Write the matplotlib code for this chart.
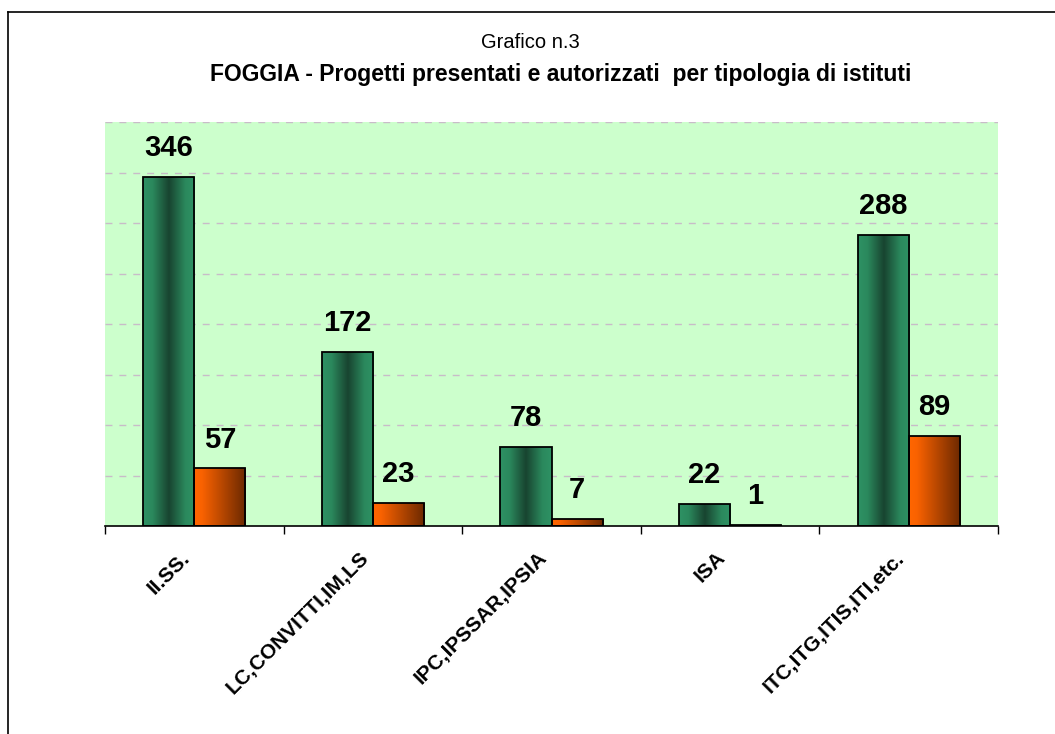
import numpy as np
import matplotlib.pyplot as plt
from matplotlib.colors import LinearSegmentedColormap
from matplotlib.lines import Line2D
from matplotlib.transforms import ScaledTranslation

plt.rcParams['font.family'] = ['Liberation Sans', 'DejaVu Sans']

# Data
categories = ['II.SS.', 'LC,CONVITTI,IM,LS', 'IPC,IPSSAR,IPSIA', 'ISA', 'ITC,ITG,ITIS,ITI,etc.']
presentati = [346, 172, 78, 22, 288]
autorizzati = [57, 23, 7, 1, 89]

green_cmap = LinearSegmentedColormap.from_list(
    'green', [(0.0, '#2E9264'), (0.18, '#2B895D'), (0.5, '#184430'), (0.82, '#2B895D'), (1.0, '#2E9264')])
orange_cmap = LinearSegmentedColormap.from_list(
    'orange', [(0.0, '#FF6600'), (0.15, '#FA6200'), (1.0, '#6A2800')])

fig = plt.figure(figsize=(10.55, 7.34), dpi=100)
ax = fig.add_axes([105 / 1055, 1 - 526 / 734, (998 - 105) / 1055, (526 - 122) / 734])
ax.set_facecolor('#CCFFCC')

x = np.arange(len(categories))
w = 0.286
bars1 = ax.bar(x - w / 2, presentati, w, facecolor='none', edgecolor='black', linewidth=1.3, zorder=3)
bars2 = ax.bar(x + w / 2, autorizzati, w, facecolor='none', edgecolor='black', linewidth=1.3, zorder=3)

# gradient fill clipped to each bar
grad = np.linspace(0, 1, 256).reshape(1, -1)
for bars, cmap in ((bars1, green_cmap), (bars2, orange_cmap)):
    for b in bars:
        x0, h = b.get_x(), b.get_height()
        im = ax.imshow(grad, cmap=cmap, aspect='auto', extent=(x0, x0 + b.get_width(), 0, h),
                       interpolation='bicubic', zorder=2)
        im.set_clip_path(b)

for bars, vals in ((bars1, presentati), (bars2, autorizzati)):
    for b, v in zip(bars, vals):
        ax.annotate(str(v), (b.get_x() + b.get_width() / 2, v), xytext=(0, 15),
                    textcoords='offset points', ha='center', va='baseline',
                    fontsize=21, fontweight='bold')

ax.set_xlim(-0.5, len(categories) - 0.5)
ax.set_ylim(0, 400)
ax.set_yticks(np.arange(50, 401, 50))
ax.yaxis.grid(True, color='#C8BCC8', linestyle=(0, (5, 5)), linewidth=1)
ax.tick_params(axis='y', length=0, labelleft=False)
ax.set_axisbelow(True)
for s in ('top', 'right', 'left'):
    ax.spines[s].set_visible(False)
ax.spines['bottom'].set_linewidth(1.2)

ax.set_xticks(x)
ax.set_xticklabels(categories, rotation=45, ha='right', rotation_mode='anchor',
                   fontsize=15, fontweight='bold')
ax.tick_params(axis='x', which='major', length=0, pad=16)
ax.set_xticks(np.arange(-0.5, len(categories)), minor=True)
ax.tick_params(axis='x', which='minor', length=6, width=1)
shift = ScaledTranslation(-14 / 100, 0, fig.dpi_scale_trans)
for lab in ax.get_xticklabels():
    lab.set_transform(lab.get_transform() + shift)

fig.text(530 / 1055, 1 - 42 / 734, 'Grafico n.3', ha='center', va='center', fontsize=14.5)
fig.text(561 / 1055, 1 - 75 / 734, 'FOGGIA - Progetti presentati e autorizzati  per tipologia di istituti',
         ha='center', va='center', fontsize=16.5, fontweight='bold')

# Border of the chart frame
fig.add_artist(Line2D([8 / 1055, 1], [1 - 12 / 734, 1 - 12 / 734], color='black', linewidth=1.2))
fig.add_artist(Line2D([8 / 1055, 8 / 1055], [0, 1 - 12 / 734], color='black', linewidth=1.2))

fig.savefig('out.png', dpi=100)
